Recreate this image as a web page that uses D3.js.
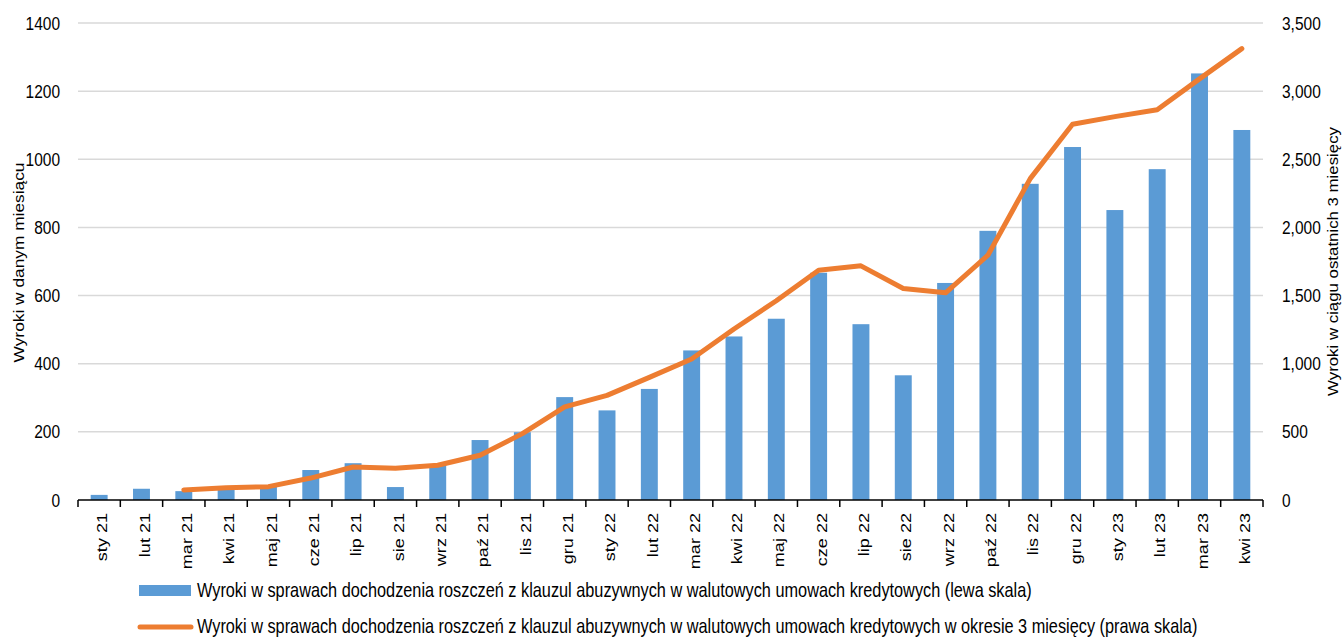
<!DOCTYPE html>
<html>
<head>
<meta charset="utf-8">
<script src="https://cdn.jsdelivr.net/npm/d3@7"></script>
<style>
  body { margin: 0; background: #fff; }
  svg { display: block; font-family: "Liberation Sans", Arial, sans-serif; }
</style>
</head>
<body>
<div id="chart"></div>
<script>
// months (x categories)
const months = ["sty 21","lut 21","mar 21","kwi 21","maj 21","cze 21","lip 21","sie 21","wrz 21","paź 21","lis 21","gru 21",
  "sty 22","lut 22","mar 22","kwi 22","maj 22","cze 22","lip 22","sie 22","wrz 22","paź 22","lis 22","gru 22",
  "sty 23","lut 23","mar 23","kwi 23"];

// monthly judgments (left scale)
const monthly = [15, 33, 26, 30, 42, 88, 108, 38, 103, 176, 199, 302,
  263, 326, 439, 480, 532, 667, 516, 366, 637, 790, 928, 1036,
  851, 971, 1252, 1086];

// judgments in last 3 months (right scale)
const rolling3 = [null, null, 74, 89, 98, 161, 242, 233, 255, 328, 487, 683,
  768, 900, 1035, 1255, 1462, 1686, 1718, 1552, 1520, 1796, 2358, 2757,
  2813, 2864, 3090, 3312];

const leftTicks = [0, 200, 400, 600, 800, 1000, 1200, 1400];
const rightTicks = [0, 500, 1000, 1500, 2000, 2500, 3000, 3500];

const barLabel = "Wyroki w sprawach dochodzenia roszczeń z klauzul abuzywnych w walutowych umowach kredytowych (lewa skala)";
const lineLabel = "Wyroki w sprawach dochodzenia roszczeń z klauzul abuzywnych w walutowych umowach kredytowych w okresie 3 miesięcy (prawa skala)";

const width = 1344, height = 638;
const margin = {top: 23, right: 81, bottom: 138, left: 78};
const barColor = "#5b9bd5", lineColor = "#ed7d31";
// the source picture is stretched vertically, so text is too
const stretch = 1.22;

const svg = d3.select("#chart").append("svg")
    .attr("width", width)
    .attr("height", height);

const x = d3.scaleBand()
    .domain(months)
    .range([margin.left, width - margin.right])
    .paddingInner(0.6)
    .paddingOuter(0.3);

const y = d3.scaleLinear()
    .domain([0, 1400])
    .range([height - margin.bottom, margin.top]);

const y2 = d3.scaleLinear()
    .domain([0, 3500])
    .range([height - margin.bottom, margin.top]);

// gridlines
svg.append("g")
  .selectAll("line")
  .data(leftTicks.slice(1))
  .join("line")
    .attr("x1", margin.left)
    .attr("x2", width - margin.right)
    .attr("y1", d => y(d))
    .attr("y2", d => y(d))
    .attr("stroke", "#d9d9d9")
    .attr("stroke-width", 1.5);

// bars
svg.append("g")
  .selectAll("rect")
  .data(monthly)
  .join("rect")
    .attr("x", (d, i) => x(months[i]))
    .attr("y", d => y(d))
    .attr("width", x.bandwidth())
    .attr("height", d => y(0) - y(d))
    .attr("fill", barColor);

// line
const line = d3.line()
    .defined(d => d != null)
    .x((d, i) => x(months[i]) + x.bandwidth() / 2)
    .y(d => y2(d));

svg.append("path")
    .datum(rolling3)
    .attr("fill", "none")
    .attr("stroke", lineColor)
    .attr("stroke-width", 5)
    .attr("stroke-linejoin", "round")
    .attr("stroke-linecap", "round")
    .attr("d", line);

// x axis
const xAxis = svg.append("g")
    .attr("transform", `translate(0,${y(0)})`);

xAxis.append("line")
    .attr("x1", margin.left)
    .attr("x2", width - margin.right)
    .attr("stroke", "#000")
    .attr("stroke-width", 1.5);

const step = x.step();
xAxis.selectAll(".tick")
  .data(d3.range(months.length + 1))
  .join("line")
    .attr("class", "tick")
    .attr("x1", i => margin.left + i * step)
    .attr("x2", i => margin.left + i * step)
    .attr("y1", 0)
    .attr("y2", 7)
    .attr("stroke", "#000")
    .attr("stroke-width", 1.5);

xAxis.selectAll(".lbl")
  .data(months)
  .join("text")
    .attr("class", "lbl")
    .attr("transform", d => `translate(${x(d) + x.bandwidth() / 2 + 3},13) rotate(-90) scale(${stretch},1)`)
    .attr("text-anchor", "end")
    .attr("dy", "0.35em")
    .attr("font-size", 14.8)
    .attr("fill", "#000")
    .text(d => d);

// left axis labels
svg.append("g")
  .selectAll("text")
  .data(leftTicks)
  .join("text")
    .attr("transform", d => `translate(60,${y(d)}) scale(1,${stretch})`)
    .attr("dy", "0.35em")
    .attr("text-anchor", "end")
    .attr("font-size", 15.5)
    .text(d => d);

// right axis labels
const fmt = d3.format(",");
svg.append("g")
  .selectAll("text")
  .data(rightTicks)
  .join("text")
    .attr("transform", d => `translate(1282,${y2(d)}) scale(1,${stretch})`)
    .attr("dy", "0.35em")
    .attr("text-anchor", "start")
    .attr("font-size", 15.5)
    .text(d => fmt(d));

// axis titles
const midY = (margin.top + height - margin.bottom) / 2;
svg.append("text")
    .attr("transform", `translate(19,${midY + 1}) rotate(-90) scale(${stretch},1)`)
    .attr("text-anchor", "middle")
    .attr("dy", "0.35em")
    .attr("font-size", 14.2)
    .text("Wyroki w danym miesiącu");

svg.append("text")
    .attr("transform", `translate(1333,${midY}) rotate(-90) scale(${stretch},1)`)
    .attr("text-anchor", "middle")
    .attr("dy", "0.35em")
    .attr("font-size", 13.8)
    .text("Wyroki w ciągu ostatnich 3 miesięcy");

// legend
const legend = svg.append("g");
legend.append("rect")
    .attr("x", 139)
    .attr("y", 585)
    .attr("width", 52)
    .attr("height", 11)
    .attr("fill", barColor);
legend.append("text")
    .attr("transform", `translate(197,597) scale(1,${stretch})`)
    .attr("font-size", 16.3)
    .text(barLabel);

legend.append("line")
    .attr("x1", 140)
    .attr("x2", 191)
    .attr("y1", 627)
    .attr("y2", 627)
    .attr("stroke", lineColor)
    .attr("stroke-width", 5)
    .attr("stroke-linecap", "round");
legend.append("text")
    .attr("transform", `translate(197,633) scale(1,${stretch})`)
    .attr("font-size", 16.3)
    .text(lineLabel);
</script>
</body>
</html>
